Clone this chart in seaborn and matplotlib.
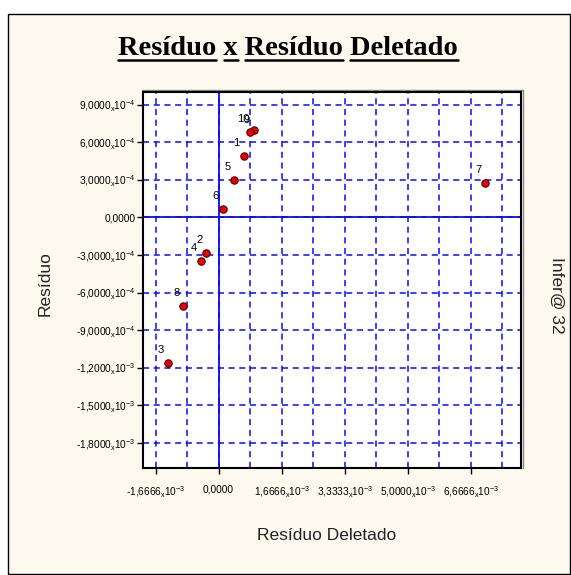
import matplotlib
matplotlib.use("Agg")
from matplotlib import pyplot as plt
from matplotlib.patches import Rectangle
from matplotlib.lines import Line2D
import numpy as np
import pandas as pd
import seaborn as sns

obs = [1, 2, 3, 4, 5, 6, 7, 8, 9, 10]
residuo_deletado = [6.6e-4, -3.3e-4, -1.35e-3, -4.7e-4, 4.2e-4, 1.1e-4, 7.05e-3, -9.3e-4, 9.4e-4, 8.4e-4]
residuo = [4.88e-4, -2.87e-4, -1.163e-3, -3.5e-4, 2.97e-4, 0.68e-4, 2.71e-4, -7.06e-4, 7.0e-4, 6.77e-4]

y_ticks = [9e-4, 6e-4, 3e-4, 0.0, -3e-4, -6e-4, -9e-4, -1.2e-3, -1.5e-3, -1.8e-3]
y_mant = ["9,0000", "6,0000", "3,0000", "0,0000", "-3,0000", "-6,0000", "-9,0000", "-1,2000", "-1,5000", "-1,8000"]
y_exp = ["-4", "-4", "-4", None, "-4", "-4", "-4", "-3", "-3", "-3"]

x_ticks = [-1 / 600, 0.0, 1 / 600, 2 / 600, 3 / 600, 4 / 600]
x_mant = ["-1,6666", "0,0000", "1,6666", "3,3333", "5,0000", "6,6666"]
x_exp = ["-3", None, "-3", "-3", "-3", "-3"]


def sci(m, e):
    if e is None:
        return m
    return m + r"$_{\mathregular{x}}$" + "10" + r"$^{\mathregular{" + e + "}}$"


W, H = 571, 575
sns.set_style("white")
plt.rcParams["font.family"] = ["Liberation Sans", "DejaVu Sans"]
plt.rcParams["mathtext.default"] = "regular"

fig = plt.figure(figsize=(W / 100, H / 100), dpi=100, facecolor="white")

# cream panel with a thin black border, behind everything
fig.add_artist(Rectangle((8 / W, 1 / H), 562 / W, 560 / H, transform=fig.transFigure,
                         facecolor="#fef9ee", edgecolor="black", linewidth=1.0, zorder=-10))

# grey shadow line on top and right of the plot frame
fig.add_artist(Line2D([142 / W, 523 / W, 523 / W], [1 - 90 / H, 1 - 90 / H, 1 - 468 / H],
                      transform=fig.transFigure, color="#888888", lw=1.0, zorder=-5))

ax = fig.add_axes([143 / W, 1 - 468 / H, 378 / W, 376 / H])
ax.set_zorder(5)
ax.set_facecolor("white")

df = pd.DataFrame({"obs": obs, "x": residuo_deletado, "y": residuo})

blue = "#0a0aff"
ax.axhline(0, color=blue, lw=1.3, zorder=1)
ax.axvline(0, color=blue, lw=1.3, zorder=1)

sns.scatterplot(data=df, x="x", y="y", ax=ax, color="#ee0000", edgecolor="#4a0000",
                linewidth=0.8, s=28, zorder=3, legend=False)

# labels sit up-left of each marker; 9 falls on top of the "0" of 10 as in the original
label_offset = {9: (-5.6, 7.2)}
for o, xv, yv in zip(df["obs"], df["x"], df["y"]):
    ax.annotate(str(o), (xv, yv), xytext=label_offset.get(o, (-5, 9.5)), textcoords="offset points",
                ha="center", va="center", fontsize=8, color="black", zorder=4)

ax.set_xlim(-2.0e-3, 8.0e-3)
ax.set_ylim(-2.0e-3, 1.0e-3)

ax.set_yticks(y_ticks)
ax.set_yticklabels([sci(m, e) for m, e in zip(y_mant, y_exp)], fontsize=7.3)
ax.set_xticks(x_ticks)
ax.set_xticks(np.arange(-2, 10, 2) * (1 / 1200) + 1 / 1200, minor=True)
ax.set_xticklabels([sci(m, e) for m, e in zip(x_mant, x_exp)], fontsize=7.3)

ax.tick_params(axis="both", which="major", direction="out", length=4, width=1,
               color="black", left=True, bottom=True, labelcolor="black")
ax.tick_params(axis="y", pad=1.5)
ax.tick_params(axis="x", pad=8)
ax.tick_params(axis="x", which="minor", length=0)

ax.grid(True, axis="y", which="major", color=blue, lw=1.1, linestyle=(0, (4, 3)), zorder=0)
ax.grid(True, axis="x", which="both", color=blue, lw=1.1, linestyle=(0, (4, 3)), zorder=0)
ax.set_axisbelow(True)

for sp in ax.spines.values():
    sp.set_color("black")
    sp.set_linewidth(1.5)
    sp.set_visible(True)

ax.set_xlabel("")
ax.set_ylabel("")

# axis titles and side note
fig.text(45 / W, 1 - 284 / H, "Resíduo", rotation=90, ha="center", va="center",
         fontsize=12.5, color="#222222")
fig.text(327 / W, 1 - 535 / H, "Resíduo Deletado", ha="center", va="center",
         fontsize=12.5, color="#222222")
fig.text(557 / W, 1 - 295 / H, "Infer@ 32", rotation=270, ha="center", va="center",
         fontsize=12.5, color="#222222")

# underlined serif title, one underline per word
words = ["Resíduo", "x", "Resíduo", "Deletado"]
tfont = dict(fontsize=20.5, fontweight="bold", family="Liberation Serif")
title = fig.text(288 / W, 1 - 55 / H, " ".join(words), ha="center", va="baseline",
                 color="black", **tfont)
fig.canvas.draw()
r = fig.canvas.get_renderer()


def width(s):
    t = fig.text(0, 0, s, **tfont)
    w = t.get_window_extent(r).width
    t.remove()
    return w


x0 = title.get_window_extent(r).x0
y_line = (H - 60) / H
for i, w in enumerate(words):
    end = width(" ".join(words[:i + 1]))
    ww = width(w)
    fig.add_artist(Line2D([(x0 + end - ww) / W, (x0 + end) / W], [y_line, y_line],
                          transform=fig.transFigure, color="black", lw=1.8))

fig.savefig("out.png", dpi=100, facecolor="white")
